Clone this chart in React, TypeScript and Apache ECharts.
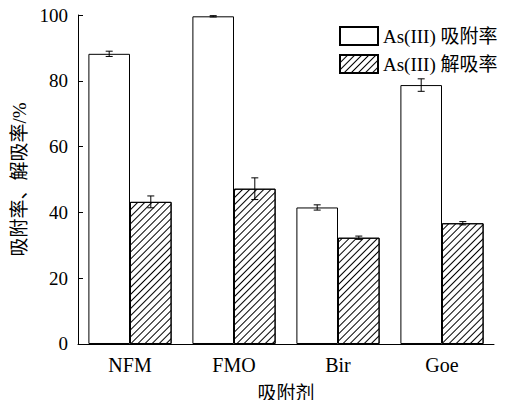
import React, { useEffect, useRef } from "react";
import * as echarts from "echarts";

const categories = ["NFM", "FMO", "Bir", "Goe"];
const adsorption = [88.2, 99.6, 41.5, 78.7];
const adsorptionErr = [0.8, 0.2, 0.8, 1.9];
const desorption = [43.2, 47.2, 32.3, 36.7];
const desorptionErr = [1.8, 3.3, 0.5, 0.5];
const seriesNames = ["As(III) 吸附率", "As(III) 解吸率"];

const FONT = "'Liberation Serif', 'Times New Roman', 'Noto Sans CJK SC', serif";

function errorSeries(values: number[], errs: number[], side: number) {
  return {
    type: "custom",
    name: "err" + side,
    silent: true,
    z: 10,
    data: values.map((v, i) => [i, v - errs[i], v + errs[i]]),
    encode: { x: 0, y: [1, 2] },
    renderItem: (params: any, api: any) => {
      const idx = api.value(0);
      const band = api.size([1, 0])[0];
      const off = side * band * 0.2;
      const lo = api.coord([idx, api.value(1)]);
      const hi = api.coord([idx, api.value(2)]);
      const x = lo[0] + off;
      const hw = 3.5;
      const st = { stroke: "#000", lineWidth: 1 };
      return {
        type: "group",
        children: [
          { type: "line", shape: { x1: x, y1: lo[1], x2: x, y2: hi[1] }, style: st },
          { type: "line", shape: { x1: x - hw, y1: lo[1], x2: x + hw, y2: lo[1] }, style: st },
          { type: "line", shape: { x1: x - hw, y1: hi[1], x2: x + hw, y2: hi[1] }, style: st },
        ],
      };
    },
  };
}

export default function App() {
  const ref = useRef<HTMLDivElement>(null);
  useEffect(() => {
    if (!ref.current) return;
    const chart = echarts.init(ref.current, null, { renderer: "svg" });
    const hatch = {
      symbol: "rect",
      symbolSize: 1,
      dashArrayX: [1, 0],
      dashArrayY: [0.9, 3.4],
      rotation: -Math.PI / 4,
      color: "#000",
    };
    chart.setOption({
      animation: false,
      backgroundColor: "#fff",
      textStyle: { fontFamily: FONT },
      grid: { left: 78, right: 14, top: 15, bottom: 60 },
      legend: {
        data: seriesNames,
        orient: "vertical",
        left: 339,
        top: 26,
        padding: 0,
        itemWidth: 38,
        itemHeight: 18,
        itemGap: 8,
        icon: "rect",
        textStyle: { fontFamily: FONT, fontSize: 19, color: "#000" },
      },
      xAxis: {
        type: "category",
        data: categories,
        name: "吸附剂",
        nameLocation: "middle",
        nameGap: 40,
        nameTextStyle: { fontFamily: FONT, fontSize: 19, color: "#000" },
        axisLine: { lineStyle: { color: "#000", width: 1 } },
        axisTick: { inside: true, length: 5, lineStyle: { color: "#000" } },
        axisLabel: { fontFamily: FONT, fontSize: 20, color: "#000", margin: 11 },
      },
      yAxis: {
        type: "value",
        min: 0,
        max: 100,
        interval: 20,
        name: "吸附率、解吸率/%",
        nameLocation: "middle",
        nameGap: 48,
        nameTextStyle: { fontFamily: FONT, fontSize: 19, color: "#000" },
        axisLine: { show: true, lineStyle: { color: "#000", width: 1 } },
        axisTick: { show: true, inside: true, length: 5, lineStyle: { color: "#000" } },
        axisLabel: { fontFamily: FONT, fontSize: 19, color: "#000", margin: 10 },
        splitLine: { show: false },
      },
      series: [
        {
          type: "bar",
          name: seriesNames[0],
          data: adsorption,
          barGap: "0%",
          barCategoryGap: "20%",
          itemStyle: { color: "#fff", borderColor: "#000", borderWidth: 1 },
        },
        {
          type: "bar",
          name: seriesNames[1],
          data: desorption,
          barGap: "0%",
          barCategoryGap: "20%",
          itemStyle: { color: "#fff", borderColor: "#000", borderWidth: 1, decal: hatch },
        },
        errorSeries(adsorption, adsorptionErr, -1),
        errorSeries(desorption, desorptionErr, 1),
      ],
    });
    return () => chart.dispose();
  }, []);
  return <div ref={ref} style={{ width: 508, height: 408, margin: -8 }} />;
}
